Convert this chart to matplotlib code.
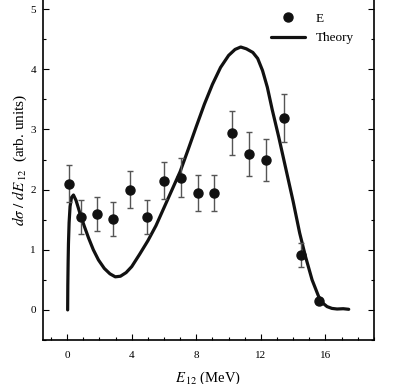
import numpy as np
import matplotlib
matplotlib.use("Agg")
import matplotlib.pyplot as plt
from matplotlib.ticker import MultipleLocator

plt.rcParams['font.family'] = ['Liberation Serif', 'DejaVu Serif']
plt.rcParams['mathtext.fontset'] = 'stix'

# experimental points
exp_x = [0.12, 0.85, 1.86, 2.87, 3.9, 4.94, 5.99, 7.03, 8.08, 9.11,
         10.19, 11.26, 12.32, 13.41, 14.49, 15.6]
exp_y = [2.1, 1.55, 1.6, 1.51, 2.0, 1.55, 2.15, 2.2, 1.95, 1.94,
         2.94, 2.59, 2.49, 3.19, 0.91, 0.15]
exp_err = [0.31, 0.28, 0.28, 0.28, 0.31, 0.28, 0.31, 0.32, 0.3, 0.3,
           0.37, 0.37, 0.35, 0.4, 0.2, 0.05]

# theory curve
th_x = [0.03, 0.04, 0.06, 0.08, 0.12, 0.18, 0.27, 0.39, 0.55, 0.8, 1.05,
        1.32, 1.62, 1.94, 2.3, 2.65, 2.98, 3.3, 3.65, 4.0, 4.5, 5.0, 5.5,
        6.0, 6.5, 7.0, 7.5, 8.0, 8.5, 9.0, 9.5, 10.0, 10.4, 10.75, 11.1,
        11.5, 11.8, 12.1, 12.4, 12.7, 13.1, 13.5, 14.0, 14.4, 14.76, 15.17,
        15.58, 15.85, 16.1, 16.4, 16.72, 17.1, 17.44]
th_y = [0.0, 0.4, 0.8, 1.1, 1.45, 1.72, 1.87, 1.91, 1.82, 1.6, 1.4,
        1.2, 1.0, 0.83, 0.69, 0.6, 0.55, 0.56, 0.62, 0.72, 0.93, 1.15, 1.4,
        1.7, 2.0, 2.3, 2.67, 3.05, 3.42, 3.75, 4.03, 4.23, 4.33, 4.37, 4.34,
        4.28, 4.18, 3.98, 3.7, 3.33, 2.88, 2.4, 1.8, 1.28, 0.89, 0.5,
        0.22, 0.11, 0.055, 0.025, 0.015, 0.02, 0.01]

fig = plt.figure(figsize=(3.94, 3.84), dpi=100)
ax = fig.add_axes([0.109, 0.1146, 0.84, 0.94])

pts = ax.errorbar(exp_x, exp_y, yerr=exp_err, fmt='o', color='#111111',
                  ecolor='#555555', elinewidth=1.0, capsize=2.5, capthick=1.0,
                  markersize=6.5, zorder=3)
line, = ax.plot(th_x, th_y, color='#111111', lw=2.3, zorder=2,
                solid_joinstyle='round', solid_capstyle='round')

ax.set_xlim(-1.5, 19.0)
ax.set_ylim(-0.5, 5.5)
ax.xaxis.set_major_locator(MultipleLocator(4))
ax.xaxis.set_minor_locator(MultipleLocator(1))
ax.yaxis.set_major_locator(MultipleLocator(1))
ax.yaxis.set_minor_locator(MultipleLocator(0.5))
ax.tick_params(which='both', direction='in', right=True, top=True,
               labelsize=8, width=0.8)
ax.tick_params(axis='x', pad=8)
ax.tick_params(axis='y', pad=5)
ax.tick_params(which='major', length=4)
ax.tick_params(which='minor', length=2.5)
for s in ax.spines.values():
    s.set_linewidth(1.2)

ax.set_xlabel(r'$E_{\,\mathrm{12}}$ (MeV)', fontsize=10.5, labelpad=7)
ax.set_ylabel(r'$d\sigma\ /\ dE_{\,\mathrm{12}}$  (arb. units)', fontsize=11,
              labelpad=1)

# legend: marker only for E (no error bar), then the line
pt_handle, = ax.plot([], [], 'o', color='#111111', markersize=6.5)
ax.legend([pt_handle, line], ['E', 'Theory'], loc='upper left',
          bbox_to_anchor=(0.673, 0.922), frameon=False, fontsize=9.5,
          handlelength=2.6, handletextpad=0.8, labelspacing=0.55,
          numpoints=1, borderaxespad=0)

fig.savefig('out.png', dpi=100)
